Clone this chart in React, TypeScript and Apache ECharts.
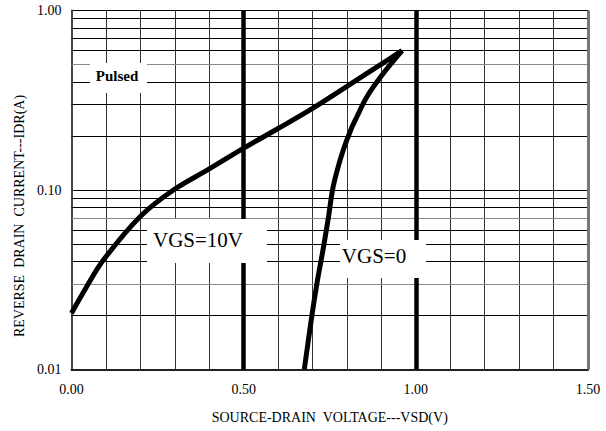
import React, { useEffect, useRef } from "react";
import * as echarts from "echarts";

// VGS=10V curve (x: VSD in V, y: IDR in A)
const vgs10X = [0, 0.044, 0.0925, 0.199, 0.296, 0.4, 0.5, 0.6, 0.7, 0.8, 0.9, 0.96];
const vgs10Y = [0.0206, 0.0289, 0.0407, 0.071, 0.1, 0.131, 0.171, 0.22, 0.285, 0.378, 0.503, 0.597];
// VGS=0 curve
const vgs0X = [0.96, 0.902, 0.858, 0.8285, 0.811, 0.7892, 0.7718, 0.758, 0.7465, 0.732, 0.7244, 0.7128, 0.698, 0.676];
const vgs0Y = [0.597, 0.437, 0.331, 0.255, 0.216, 0.167, 0.129, 0.1, 0.071, 0.0483, 0.0401, 0.0302, 0.0199, 0.01];

const xTickLabels = ["0.00", "0.50", "1.00", "1.50"];
const yTickLabels = ["0.01", "0.10", "1.00"];
const yMinorGrid = [0.02, 0.03, 0.04, 0.05, 0.06, 0.07, 0.08, 0.09, 0.2, 0.3, 0.4, 0.5, 0.6, 0.7, 0.8, 0.9];
const yMinorGray = [0.03, 0.07, 0.5];
const xThick = [0.5, 1.0];
const xBorder = [1.5];

const FONT = "'Liberation Serif', 'DejaVu Serif', serif";

export default function App() {
  const ref = useRef<HTMLDivElement>(null);
  useEffect(() => {
    if (!ref.current) return;
    const chart = echarts.init(ref.current, null, { renderer: "svg" });
    const pair = (xs: number[], ys: number[]) => xs.map((x, i) => [x, ys[i]]);
    const option: any = {
      animation: false,
      backgroundColor: "#fff",
      grid: { left: 71.5, top: 10.5, right: 18, bottom: 61.5, containLabel: false },
      xAxis: {
        type: "value",
        min: 0,
        max: 1.5,
        interval: 0.1,
        name: "SOURCE-DRAIN  VOLTAGE---VSD(V)",
        nameLocation: "middle",
        nameGap: 41,
        nameTextStyle: { fontFamily: FONT, fontSize: 14, color: "#000" },
        axisLine: { show: true, lineStyle: { color: "#222", width: 2 } },
        axisTick: { show: false },
        axisLabel: {
          fontFamily: FONT,
          fontSize: 14,
          color: "#000",
          margin: 13,
          formatter: (v: number) => {
            const k = Math.round(v * 2);
            if (Math.abs(v * 2 - k) < 1e-6) return xTickLabels[k] ?? "";
            return "";
          },
        },
        splitLine: { show: true, lineStyle: { color: "#333", width: 1 } },
      },
      yAxis: {
        type: "log",
        logBase: 10,
        min: 0.01,
        max: 1,
        axisLine: { show: true, lineStyle: { color: "#444", width: 2 } },
        axisTick: { show: false },
        axisLabel: {
          fontFamily: FONT,
          fontSize: 14,
          color: "#000",
          margin: 10,
          formatter: (v: number) => {
            const k = Math.round(Math.log10(v)) + 2;
            return yTickLabels[k] ?? "";
          },
        },
        splitLine: { show: true, lineStyle: { color: "#000", width: 1 } },
      },
      graphic: [
        {
          type: "text",
          z: 51,
          x: 19,
          y: 216,
          rotation: Math.PI / 2,
          style: { text: "REVERSE  DRAIN  CURRENT---IDR(A)", font: `14px ${FONT}`, fill: "#000", align: "center", verticalAlign: "middle" },
        },
        { type: "rect", z: 50, shape: { x: 90, y: 63, width: 57, height: 30 }, style: { fill: "#fff" } },
        { type: "text", z: 51, x: 117, y: 76, style: { text: "Pulsed", font: `bold 15px ${FONT}`, fill: "#000", align: "center", verticalAlign: "middle" } },
        { type: "rect", z: 50, shape: { x: 147, y: 219, width: 120, height: 44 }, style: { fill: "#fff" } },
        { type: "text", z: 51, x: 198, y: 240, style: { text: "VGS=10V", font: `21px ${FONT}`, fill: "#000", align: "center", verticalAlign: "middle" } },
        { type: "rect", z: 50, shape: { x: 340, y: 240, width: 86, height: 38 }, style: { fill: "#fff" } },
        { type: "text", z: 51, x: 374, y: 256, style: { text: "VGS=0", font: `21px ${FONT}`, fill: "#000", align: "center", verticalAlign: "middle" } },
      ],
      series: [
        {
          type: "line",
          z: 1,
          data: [],
          silent: true,
          markLine: {
            silent: true,
            symbol: "none",
            label: { show: false },
            data: [
              ...yMinorGrid.map((v) => ({
                yAxis: v,
                lineStyle: { color: yMinorGray.includes(v) ? "#888" : "#000", width: 1, type: "solid" },
              })),
              ...xThick.map((v) => ({ xAxis: v, lineStyle: { color: "#000", width: 4.5, type: "solid" } })),
              ...xBorder.map((v) => ({ xAxis: v, lineStyle: { color: "#777", width: 3, type: "solid" } })),
            ],
          },
        },
        {
          name: "VGS=10V",
          type: "line",
          z: 10,
          data: pair(vgs10X, vgs10Y),
          smooth: 0.35,
          showSymbol: false,
          lineStyle: { color: "#000", width: 5 },
        },
        {
          name: "VGS=0",
          type: "line",
          z: 10,
          data: pair(vgs0X, vgs0Y),
          smooth: 0.35,
          showSymbol: false,
          lineStyle: { color: "#000", width: 5 },
        },
      ],
    };
    chart.setOption(option);
    return () => chart.dispose();
  }, []);
  return <div ref={ref} style={{ width: 606, height: 431, position: "absolute", left: 0, top: 0 }} />;
}
